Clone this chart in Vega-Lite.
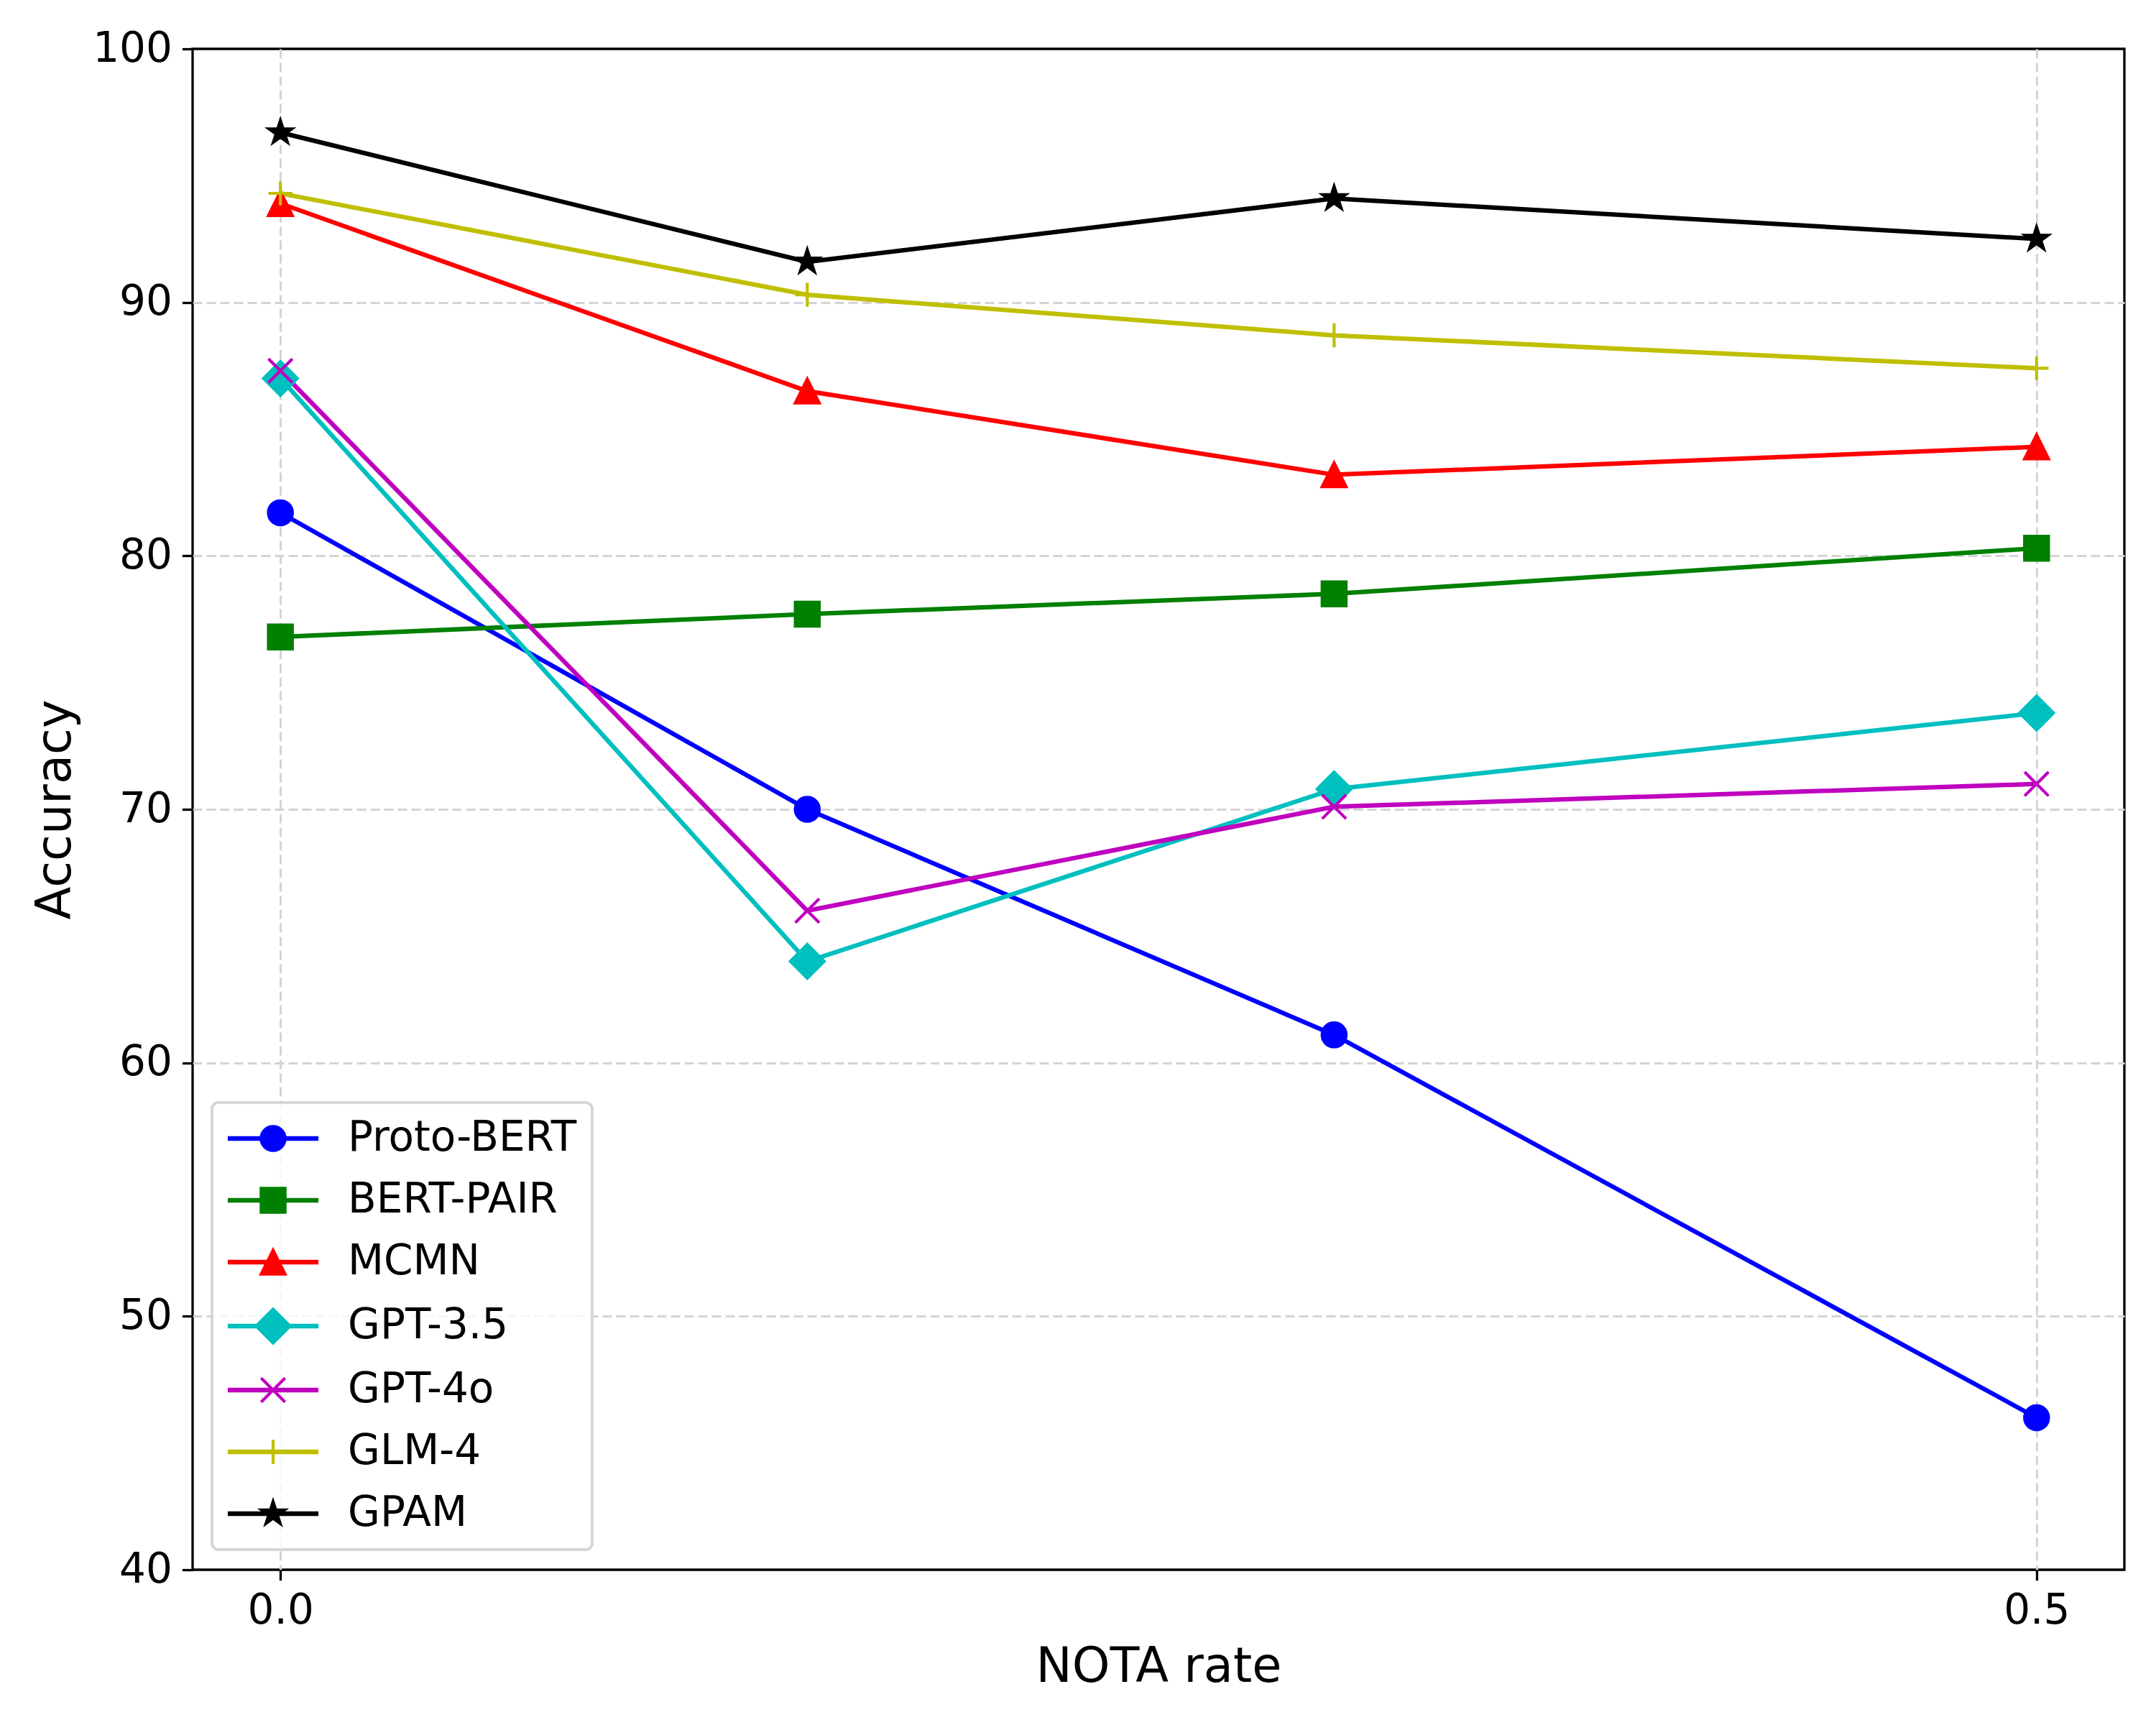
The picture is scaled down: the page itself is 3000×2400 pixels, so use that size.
{
  "$schema": "https://vega.github.io/schema/vega-lite/v6.json",
  "autosize": {"type": "none"},
  "width": 2688,
  "height": 2116,
  "padding": {"left": 268, "top": 68, "right": 44, "bottom": 216},
  "background": "white",
  "config": {
    "view": {"stroke": "black", "strokeWidth": 3.3},
    "font": "DejaVu Sans",
    "legend": {"strokeWidth": 4},
    "axis": {
      "domain": false,
      "labelFont": "DejaVu Sans",
      "labelFontSize": 58,
      "labelColor": "black",
      "titleFont": "DejaVu Sans",
      "titleFontSize": 67,
      "titleFontWeight": "normal",
      "titleColor": "black",
      "tickColor": "black",
      "tickWidth": 3.3,
      "tickSize": 14.6,
      "labelPadding": 14,
      "grid": true,
      "gridWidth": 3,
      "gridDash": [13, 6]
    }
  },
  "data": {
    "values": [
      {"model": "Proto-BERT", "rate": 0.0, "acc": 81.7},
      {"model": "Proto-BERT", "rate": 0.15, "acc": 70.0},
      {"model": "Proto-BERT", "rate": 0.3, "acc": 61.1},
      {"model": "Proto-BERT", "rate": 0.5, "acc": 46.0},
      {"model": "BERT-PAIR", "rate": 0.0, "acc": 76.8},
      {"model": "BERT-PAIR", "rate": 0.15, "acc": 77.7},
      {"model": "BERT-PAIR", "rate": 0.3, "acc": 78.5},
      {"model": "BERT-PAIR", "rate": 0.5, "acc": 80.3},
      {"model": "MCMN", "rate": 0.0, "acc": 93.9},
      {"model": "MCMN", "rate": 0.15, "acc": 86.5},
      {"model": "MCMN", "rate": 0.3, "acc": 83.2},
      {"model": "MCMN", "rate": 0.5, "acc": 84.3},
      {"model": "GPT-3.5", "rate": 0.0, "acc": 87.0},
      {"model": "GPT-3.5", "rate": 0.15, "acc": 64.0},
      {"model": "GPT-3.5", "rate": 0.3, "acc": 70.8},
      {"model": "GPT-3.5", "rate": 0.5, "acc": 73.8},
      {"model": "GPT-4o", "rate": 0.0, "acc": 87.3},
      {"model": "GPT-4o", "rate": 0.15, "acc": 66.0},
      {"model": "GPT-4o", "rate": 0.3, "acc": 70.1},
      {"model": "GPT-4o", "rate": 0.5, "acc": 71.0},
      {"model": "GLM-4", "rate": 0.0, "acc": 94.3},
      {"model": "GLM-4", "rate": 0.15, "acc": 90.3},
      {"model": "GLM-4", "rate": 0.3, "acc": 88.7},
      {"model": "GLM-4", "rate": 0.5, "acc": 87.4},
      {"model": "GPAM", "rate": 0.0, "acc": 96.7},
      {"model": "GPAM", "rate": 0.15, "acc": 91.6},
      {"model": "GPAM", "rate": 0.3, "acc": 94.1},
      {"model": "GPAM", "rate": 0.5, "acc": 92.5}
    ]
  },
  "encoding": {
    "x": {
      "field": "rate",
      "type": "quantitative",
      "scale": {"domain": [-0.025, 0.525], "nice": false, "zero": false},
      "axis": {
        "values": [0, 0.5],
        "format": ".1f",
        "gridColor": "#d4d4d4",
        "title": "NOTA rate",
        "titleX": 1344,
        "titleY": 155,
        "titleBaseline": "alphabetic",
        "titleAlign": "center"
      }
    },
    "y": {
      "field": "acc",
      "type": "quantitative",
      "scale": {"domain": [40, 100], "nice": false, "zero": false},
      "axis": {
        "values": [40, 50, 60, 70, 80, 90, 100],
        "format": "d",
        "gridColor": {"condition": {"test": "datum.value === 40 || datum.value === 100", "value": "transparent"}, "value": "#d4d4d4"},
        "title": "Accuracy",
        "titleX": -171,
        "titleY": 1058,
        "titleAngle": -90,
        "titleBaseline": "alphabetic",
        "titleAlign": "center"
      }
    }
  },
  "layer": [
    {
      "mark": {"type": "line", "strokeWidth": 6.25},
      "encoding": {
        "color": {
          "field": "model",
          "type": "nominal",
          "scale": {
            "domain": ["Proto-BERT", "BERT-PAIR", "MCMN", "GPT-3.5", "GPT-4o", "GLM-4", "GPAM"],
            "range": ["#0000ff", "#008000", "#ff0000", "#00bfbf", "#bf00bf", "#bfbf00", "#000000"]
          },
          "legend": null
        }
      }
    },
    {
      "mark": {"type": "point", "filled": true, "opacity": 1, "size": 1111, "strokeWidth": 4.17},
      "encoding": {
        "color": {
          "field": "model",
          "type": "nominal",
          "scale": {
            "domain": ["Proto-BERT", "BERT-PAIR", "MCMN", "GPT-3.5", "GPT-4o", "GLM-4", "GPAM"],
            "range": ["#0000ff", "#008000", "#ff0000", "#00bfbf", "#bf00bf", "#bfbf00", "#000000"]
          },
          "legend": null
        },
        "shape": {
          "field": "model",
          "type": "nominal",
          "scale": {
            "domain": ["Proto-BERT", "BERT-PAIR", "MCMN", "GPT-3.5", "GPT-4o", "GLM-4", "GPAM"],
            "range": [
              "M1,0A1,1 0 1,1 -1,0A1,1 0 1,1 1,0Z",
              "M-1,-1L1,-1L1,1L-1,1Z",
              "M0,-1L1,1L-1,1Z",
              "M0,-1.414L1.414,0L0,1.414L-1.414,0Z",
              "M-1,-1L1,1M-1,1L1,-1",
              "M-1,0L1,0M0,-1L0,1",
              "M0,-1L0.2245,-0.309L0.9511,-0.309L0.3633,0.118L0.5878,0.809L0,0.382L-0.5878,0.809L-0.3633,0.118L-0.9511,-0.309L-0.2245,-0.309Z"
            ]
          },
          "legend": null
        },
        "stroke": {
          "field": "model",
          "type": "nominal",
          "scale": {
            "domain": ["Proto-BERT", "BERT-PAIR", "MCMN", "GPT-3.5", "GPT-4o", "GLM-4", "GPAM"],
            "range": ["#0000ff", "#008000", "#ff0000", "#00bfbf", "#bf00bf", "#bfbf00", "#000000"]
          },
          "legend": null
        }
      }
    },
    {
      "transform": [{"filter": "false"}],
      "mark": {"type": "point", "filled": true, "opacity": 1, "size": 1111, "strokeWidth": 4.17},
      "encoding": {
        "color": {
          "field": "model",
          "type": "nominal",
          "scale": {
            "domain": ["Proto-BERT", "BERT-PAIR", "MCMN", "GPT-3.5", "GPT-4o", "GLM-4", "GPAM"],
            "range": ["#0000ff", "#008000", "#ff0000", "#00bfbf", "#bf00bf", "#bfbf00", "#000000"]
          },
          "legend": {
            "title": null,
            "orient": "none",
            "legendX": 27,
            "legendY": 1466,
            "labelFont": "DejaVu Sans",
            "labelFontSize": 58,
            "labelColor": "black",
            "labelLimit": 1000,
            "labelOffset": 75,
            "symbolOffset": 35,
            "symbolSize": 1111,
            "symbolStrokeWidth": 4.17,
            "symbolOpacity": 1,
            "rowPadding": 28,
            "padding": 21,
            "strokeColor": "#d6d6d6",
            "cornerRadius": 9,
            "fillColor": "rgba(255,255,255,0.8)"
          }
        },
        "shape": {
          "field": "model",
          "type": "nominal",
          "scale": {
            "domain": ["Proto-BERT", "BERT-PAIR", "MCMN", "GPT-3.5", "GPT-4o", "GLM-4", "GPAM"],
            "range": [
              "M-3.66,-0.0625L3.66,-0.0625L3.66,0.0625L-3.66,0.0625ZM1,0A1,1 0 1,1 -1,0A1,1 0 1,1 1,0Z",
              "M-3.66,-0.0625L3.66,-0.0625L3.66,0.0625L-3.66,0.0625ZM-1,-1L1,-1L1,1L-1,1Z",
              "M-3.66,-0.0625L3.66,-0.0625L3.66,0.0625L-3.66,0.0625ZM0,-1L1,1L-1,1Z",
              "M-3.66,-0.0625L3.66,-0.0625L3.66,0.0625L-3.66,0.0625ZM0,-1.414L1.414,0L0,1.414L-1.414,0Z",
              "M-3.66,-0.0625L3.66,-0.0625L3.66,0.0625L-3.66,0.0625ZM-1,-1L1,1M-1,1L1,-1",
              "M-3.66,-0.0625L3.66,-0.0625L3.66,0.0625L-3.66,0.0625ZM-1,0L1,0M0,-1L0,1",
              "M-3.66,-0.0625L3.66,-0.0625L3.66,0.0625L-3.66,0.0625ZM0,-1L0.2245,-0.309L0.9511,-0.309L0.3633,0.118L0.5878,0.809L0,0.382L-0.5878,0.809L-0.3633,0.118L-0.9511,-0.309L-0.2245,-0.309Z"
            ]
          },
          "legend": {"title": null}
        },
        "stroke": {
          "field": "model",
          "type": "nominal",
          "scale": {
            "domain": ["Proto-BERT", "BERT-PAIR", "MCMN", "GPT-3.5", "GPT-4o", "GLM-4", "GPAM"],
            "range": ["#0000ff", "#008000", "#ff0000", "#00bfbf", "#bf00bf", "#bfbf00", "#000000"]
          },
          "legend": {"title": null}
        }
      }
    }
  ],
  "resolve": {"scale": {"color": "independent", "shape": "independent", "stroke": "independent"}}
}
